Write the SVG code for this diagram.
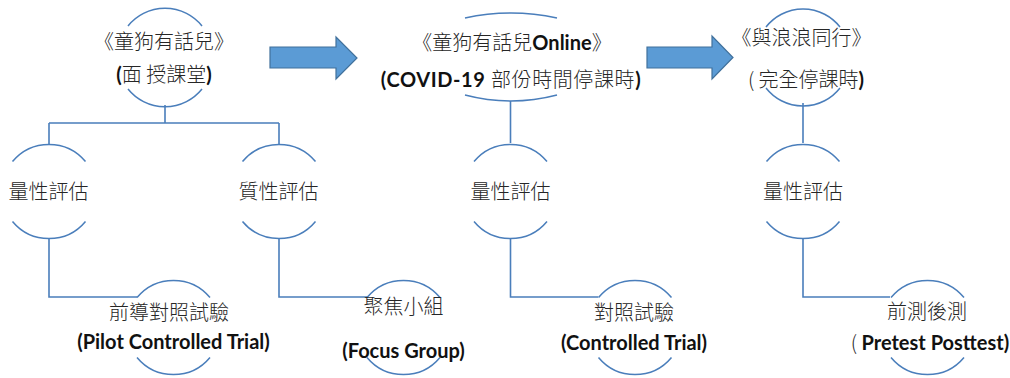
<svg xmlns="http://www.w3.org/2000/svg" width="1010" height="378" viewBox="0 0 1010 378">
<style>
.arc{fill:none;stroke:#4a7ebb;stroke-width:1.5}
.con{fill:none;stroke:#4a7ebb;stroke-width:1.6}
.arrow{fill:#5b9bd5;stroke:#41719c;stroke-width:1.2}
.cjk{font-family:"Noto Sans CJK TC","Noto Sans CJK SC",sans-serif;font-weight:300;fill:#262626;font-size:20px}
.lat{font-family:Lato,"Open Sans",sans-serif;font-weight:700;fill:#111;font-size:20px}
</style>
<rect width="1010" height="378" fill="#fff"/>
<g id="connectors">
<path class="con" d="M165 105V123M49 123H279M49 123V144M279 123V144"/>
<path class="con" d="M49 239V297H137"/>
<path class="con" d="M279 239V297H368"/>
<path class="con" d="M510.5 101V143"/>
<path class="con" d="M510.5 239V297H598"/>
<path class="con" d="M803 103V143"/>
<path class="con" d="M803 239V297H890"/>
</g>
<g id="arrows">
<polygon class="arrow" points="270,47 336,47 336,37 357,58 336,79 336,68 270,68"/>
<polygon class="arrow" points="647,47 712,47 712,36 733,57.5 712,79 712,68 647,68"/>
</g>
<g id="node1">
<path class="arc" d="M128 26A47.5 47.5 0 0 1 202 26M128 89A47.5 47.5 0 0 0 202 89"/>
<text class="cjk" x="164" y="49" text-anchor="middle">《童狗有話兒》</text>
<text class="cjk" x="164" y="82" text-anchor="middle"><tspan class="lat">(</tspan>面 授課堂<tspan class="lat">)</tspan></text>
</g>
<g id="node2">
<path class="arc" d="M465 18Q511 8 557 18M465 95Q511 107 557 95"/>
<text class="cjk" x="512" y="50" text-anchor="middle">《童狗有話兒<tspan class="lat">Online</tspan>》</text>
<text class="cjk" x="511" y="87" text-anchor="middle" letter-spacing="0.6"><tspan class="lat">(COVID-19 </tspan>部份時間停課時<tspan class="lat">)</tspan></text>
</g>
<g id="node3">
<path class="arc" d="M766 27A47 47 0 0 1 840 27M766 88A47 47 0 0 0 840 88"/>
<text class="cjk" x="801.5" y="45" text-anchor="middle">《與浪浪同行》</text>
<text class="cjk" x="806" y="87" text-anchor="middle">( 完全停課時<tspan class="lat">)</tspan></text>
</g>
<g id="eval1">
<path class="arc" d="M12.5 161.5A47.5 47.5 0 0 1 85.5 161.5M12.5 221.5A47.5 47.5 0 0 0 85.5 221.5"/>
<text class="cjk" x="48.5" y="199" text-anchor="middle">量性評估</text>
</g>
<g id="eval2">
<path class="arc" d="M242.5 161.5A47.5 47.5 0 0 1 315.5 161.5M242.5 221.5A47.5 47.5 0 0 0 315.5 221.5"/>
<text class="cjk" x="278.5" y="199" text-anchor="middle">質性評估</text>
</g>
<g id="pct">
<path class="arc" d="M137 297.5A47.5 47.5 0 0 1 210 297.5M137 357.5A47.5 47.5 0 0 0 210 357.5"/>
<text class="cjk" x="169" y="320" text-anchor="middle">前導對照試驗</text>
<text class="lat" x="173.5" y="349" text-anchor="middle">(Pilot Controlled Trial)</text>
</g>
<g id="focus">
<path class="arc" d="M367 297.5A47.5 47.5 0 0 1 440 297.5M367 357.5A47.5 47.5 0 0 0 440 357.5"/>
<text class="cjk" x="403.5" y="314" text-anchor="middle">聚焦小組</text>
<text class="lat" x="403.5" y="358" text-anchor="middle">(Focus Group)</text>
</g>
<g id="eval3">
<path class="arc" d="M474 161.5A47.5 47.5 0 0 1 547 161.5M474 221.5A47.5 47.5 0 0 0 547 221.5"/>
<text class="cjk" x="510.5" y="199" text-anchor="middle">量性評估</text>
</g>
<g id="ct">
<path class="arc" d="M598.5 297.5A47.5 47.5 0 0 1 671.5 297.5M598.5 357.5A47.5 47.5 0 0 0 671.5 357.5"/>
<text class="cjk" x="634" y="320" text-anchor="middle">對照試驗</text>
<text class="lat" x="634" y="350" text-anchor="middle">(Controlled Trial)</text>
</g>
<g id="eval4">
<path class="arc" d="M766.5 161.5A47.5 47.5 0 0 1 839.5 161.5M766.5 221.5A47.5 47.5 0 0 0 839.5 221.5"/>
<text class="cjk" x="803" y="199" text-anchor="middle">量性評估</text>
</g>
<g id="pp">
<path class="arc" d="M891 297.5A47.5 47.5 0 0 1 964 297.5M891 357.5A47.5 47.5 0 0 0 964 357.5"/>
<text class="cjk" x="927" y="319" text-anchor="middle">前測後測</text>
<text class="cjk" x="930" y="350" text-anchor="middle">( <tspan class="lat">Pretest Posttest)</tspan></text>
</g>
</svg>
